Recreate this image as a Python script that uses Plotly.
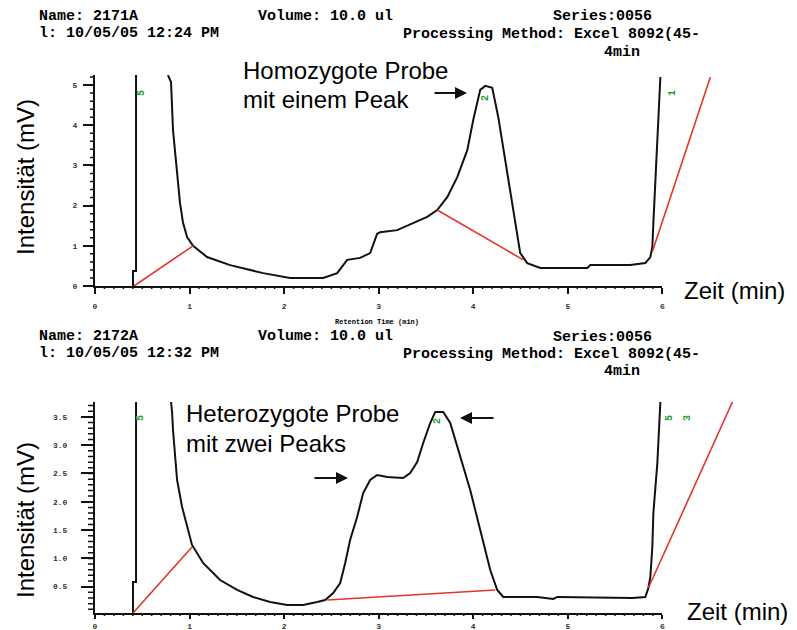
import plotly.graph_objects as go

# ---------------- data (time in min, intensity in mV) ----------------
# upper chromatogram (homozygous sample)
top_spike_t = [0.402, 0.402, 0.434, 0.434]
top_spike_i = [0.0, 0.373, 0.373, 5.25]
top_t = [0.772, 0.804, 0.825, 0.868, 0.899, 0.931, 0.974, 1.037, 1.185, 1.429,
         1.778, 2.063, 2.413, 2.561, 2.667, 2.804, 2.910, 2.984, 3.016, 3.196,
         3.365, 3.513, 3.619, 3.725, 3.831, 3.937, 4.000, 4.074, 4.127, 4.201,
         4.265, 4.339, 4.423, 4.497, 4.571, 4.709, 5.206, 5.238, 5.661, 5.820,
         5.873, 5.894, 5.905, 5.926, 5.958, 5.979]
top_i = [5.25, 5.07, 3.88, 2.71, 2.06, 1.57, 1.22, 1.00, 0.72, 0.52,
         0.32, 0.20, 0.20, 0.32, 0.65, 0.70, 0.82, 1.30, 1.34, 1.39,
         1.57, 1.72, 1.89, 2.21, 2.71, 3.38, 4.13, 4.88, 4.98, 4.93,
         4.20, 3.13, 1.89, 0.82, 0.57, 0.45, 0.45, 0.52, 0.52, 0.57,
         0.72, 0.97, 1.57, 2.71, 4.18, 5.20]
top_base1_t = [0.413, 1.037]
top_base1_i = [0.0, 1.00]
top_base2_t = [3.619, 4.529]
top_base2_i = [1.89, 0.65]
top_base3_t = [5.894, 6.508]
top_base3_i = [0.85, 5.20]

# lower chromatogram (heterozygous sample)
bot_spike_t = [0.402, 0.402, 0.434, 0.434]
bot_spike_i = [0.035, 0.583, 0.583, 3.763]
bot_t = [0.804, 0.815, 0.825, 0.847, 0.868, 0.921, 0.974, 1.026, 1.079, 1.143,
         1.323, 1.503, 1.672, 1.852, 2.032, 2.201, 2.349, 2.434, 2.519, 2.593,
         2.646, 2.698, 2.772, 2.836, 2.910, 2.984, 3.090, 3.259, 3.333, 3.407,
         3.471, 3.545, 3.598, 3.683, 3.757, 3.862, 3.968, 4.074, 4.180, 4.254,
         4.317, 4.677, 4.847, 4.889, 5.683, 5.820, 5.852, 5.873, 5.894, 5.905,
         5.947, 5.979]
bot_i = [3.763, 3.587, 3.269, 2.827, 2.385, 1.908, 1.555, 1.237, 1.095, 0.919,
         0.618, 0.442, 0.318, 0.230, 0.177, 0.177, 0.230, 0.265, 0.389, 0.565,
         0.919, 1.325, 1.731, 2.155, 2.385, 2.473, 2.438, 2.420, 2.509, 2.703,
         3.039, 3.392, 3.587, 3.587, 3.392, 2.792, 2.208, 1.502, 0.795, 0.442,
         0.318, 0.318, 0.283, 0.318, 0.300, 0.318, 0.477, 0.671, 1.201, 1.802,
         2.686, 3.763]
bot_base1_t = [0.402, 1.026]
bot_base1_i = [0.035, 1.201]
bot_base2_t = [2.455, 4.233]
bot_base2_i = [0.265, 0.442]
bot_base3_t = [5.852, 6.741]
bot_base3_i = [0.477, 3.763]

x_ticks = [0, 1, 2, 3, 4, 5, 6]
top_y_ticks = [0, 1, 2, 3, 4, 5]
bot_y_ticks = [0.5, 1.0, 1.5, 2.0, 2.5, 3.0, 3.5]

# ---------------- figure ----------------
W, H = 797, 630
ML, MR, MT, MB = 95, 59, 75, 17
PW, PH = W - ML - MR, H - MT - MB
X_MAX = 6.8      # drawing range (traces run past the scale)
X_SCALE = 6.0    # printed time scale ends at 6 min
TOP_Y = [0, 5.25]
BOT_Y = [0.035, 3.763]
TOP_PX, BOT_PX = (75, 286), (402, 613)


def P(px, py):
    return (px - ML) / PW, (H - MB - py) / PH


BLACK = "#111111"
RED = "#e3342c"
GREEN = "#2f9a35"

fig = go.Figure()


def line(x, y, color, width, xa, ya):
    fig.add_trace(go.Scatter(x=x, y=y, mode="lines", xaxis=xa, yaxis=ya,
                             line=dict(color=color, width=width),
                             hoverinfo="skip", showlegend=False))


line(top_spike_t, top_spike_i, BLACK, 2, "x", "y")
line(top_t, top_i, BLACK, 2, "x", "y")
line(top_base1_t, top_base1_i, RED, 1.6, "x", "y")
line(top_base2_t, top_base2_i, RED, 1.6, "x", "y")
line(top_base3_t, top_base3_i, RED, 1.6, "x", "y")

line(bot_spike_t, bot_spike_i, BLACK, 2, "x2", "y2")
line(bot_t, bot_i, BLACK, 2, "x2", "y2")
line(bot_base1_t, bot_base1_i, RED, 1.6, "x2", "y2")
line(bot_base2_t, bot_base2_i, RED, 1.6, "x2", "y2")
line(bot_base3_t, bot_base3_i, RED, 1.6, "x2", "y2")

# empty traces so that the printed time-scale axes are drawn
fig.add_trace(go.Scatter(x=[], y=[], xaxis="x3", yaxis="y", showlegend=False))
fig.add_trace(go.Scatter(x=[], y=[], xaxis="x4", yaxis="y2", showlegend=False))

top_dom = [(H - MB - TOP_PX[1]) / PH, 1.0]
bot_dom = [0.0, (H - MB - BOT_PX[0]) / PH]


# minor tick marks as one path per axis (paper coordinates from the axis scales)
def minor_path(dom, yr, x_step, y_step, y_start, y_stop, xlen, ylen):
    segs = []
    n_x = int(round(X_SCALE / x_step))
    per_major = int(round(1 / x_step))
    for k in range(1, n_x):
        if k % per_major == 0:
            continue
        xp = k * x_step / X_MAX
        segs.append("M%.5f,%.5f L%.5f,%.5f" % (xp, dom[0], xp, dom[0] - ylen / PH))
    n_y = int(round((y_stop - y_start) / y_step)) + 1
    for k in range(n_y):
        v = y_start + k * y_step
        yp = dom[0] + (v - yr[0]) / (yr[1] - yr[0]) * (dom[1] - dom[0])
        segs.append("M%.5f,%.5f L%.5f,%.5f" % (0, yp, -xlen / PW, yp))
    fig.add_shape(type="path", xref="paper", yref="paper", path=" ".join(segs),
                  line=dict(color=BLACK, width=1.5))


minor_path(top_dom, TOP_Y, 0.1, 0.2, 0.2, 5.2, 5, 3)
minor_path(bot_dom, BOT_Y, 0.1, 0.1, 0.1, 3.7, 7, 3)

tickfont = dict(family="Liberation Mono", size=8, color="#333333", weight="bold")

hidden_x = dict(range=[0, X_MAX], domain=[0, 1], visible=False, automargin=False)
scale_x = dict(range=[0, X_SCALE], domain=[0, X_SCALE / X_MAX], automargin=False,
               showgrid=False, zeroline=False, showline=True, linewidth=2,
               linecolor=BLACK, tickmode="linear", tick0=x_ticks[0],
               dtick=x_ticks[1] - x_ticks[0],
               ticks="outside", tickwidth=2,
               tickcolor=BLACK, tickfont=tickfont)

fig.update_layout(
    width=W, height=H, autosize=False,
    margin=dict(l=ML, r=MR, t=MT, b=MB),
    paper_bgcolor="white", plot_bgcolor="rgba(0,0,0,0)",
    showlegend=False,
    xaxis=dict(anchor="y", **hidden_x),
    xaxis2=dict(anchor="y2", **hidden_x),
    xaxis3=dict(anchor="y", ticklen=6, ticklabelstandoff=5, **scale_x),
    xaxis4=dict(anchor="y2", ticklen=4, ticklabelstandoff=0, **scale_x),
    yaxis=dict(domain=top_dom, anchor="x", range=TOP_Y, showgrid=False,
               automargin=False,
               zeroline=False, showline=True, linewidth=2, linecolor=BLACK,
               tickmode="linear", tick0=top_y_ticks[0],
               dtick=top_y_ticks[1] - top_y_ticks[0],
               ticks="outside", ticklen=10, tickwidth=2, tickcolor=BLACK,
               tickfont=tickfont, ticklabelstandoff=4),
    yaxis2=dict(domain=bot_dom, anchor="x2", range=BOT_Y, showgrid=False,
                automargin=False,
                zeroline=False, showline=True, linewidth=2, linecolor=BLACK,
                tickmode="linear", tick0=bot_y_ticks[0],
                dtick=bot_y_ticks[1] - bot_y_ticks[0], tickformat=".1f",
                ticks="outside", ticklen=12, tickwidth=2, tickcolor=BLACK,
                tickfont=tickfont, ticklabelstandoff=12),
)

ann = []


def text(s, px, py, size, family, color="black", xanchor="left", angle=0, weight="normal"):
    x, y = P(px, py)
    ann.append(dict(text=s, x=x, y=y, xref="paper", yref="paper", showarrow=False,
                    xanchor=xanchor, yanchor="middle", textangle=angle, borderpad=0,
                    font=dict(size=size, family=family, color=color, weight=weight)))


def arrow(hx, hy, tx, ty):
    x, y = P(hx, hy)
    ann.append(dict(text="", x=x, y=y, xref="paper", yref="paper", showarrow=True,
                    ax=tx - hx, ay=ty - hy, arrowhead=2, arrowsize=1.2,
                    arrowwidth=2, arrowcolor=BLACK))


MONO = "Liberation Mono"
SANS = "Liberation Sans"

# header blocks
for (name, time, y0) in (("2171A", "12:24", 16), ("2172A", "12:32", 336)):
    text("Name: " + name, 38, y0, 15, MONO, weight="bold")
    text("l: 10/05/05 " + time + " PM", 38, y0 + 17, 15, MONO, weight="bold")
    text("Volume: 10.0 ul", 257, y0, 15, MONO, weight="bold")
    text("Series:0056", 552, y0 + 1, 15, MONO, weight="bold")
    text("Processing Method: Excel 8092(45-", 402, y0 + 18, 15, MONO, weight="bold")
    text("4min", 603, y0 + 36, 15, MONO, weight="bold")

text("Retention Time (min)", 334, 322, 7, MONO, weight="bold")

# axis titles
text("Intensität (mV)", 25, 177, 24, SANS, xanchor="center", angle=-90)
text("Intensität (mV)", 25, 520, 24, SANS, xanchor="center", angle=-90)
text("Zeit (min)", 683, 290, 24, SANS)
text("Zeit (min)", 686, 611, 24, SANS)

# callouts
text("Homozygote Probe", 242, 70, 24, SANS)
text("mit einem Peak", 242, 99, 24, SANS)
arrow(467, 93, 433, 93)
text("Heterozygote Probe", 185, 413, 24, SANS)
text("mit zwei Peaks", 185, 443, 24, SANS)
arrow(460, 418, 495, 418)
arrow(348, 478, 313, 478)

# green peak markers
for (s, px, py) in (("5", 141, 93), ("2", 486, 98), ("1", 672, 93),
                    ("5", 140, 418), ("2", 437, 421), ("5", 669, 418), ("3", 687, 418)):
    text(s, px, py, 10, MONO, color=GREEN, xanchor="center", angle=-90, weight="bold")

fig.update_layout(annotations=ann)
fig.write_html("out.html", config={"displayModeBar": False},
               post_script="document.body.style.margin='0px';")
